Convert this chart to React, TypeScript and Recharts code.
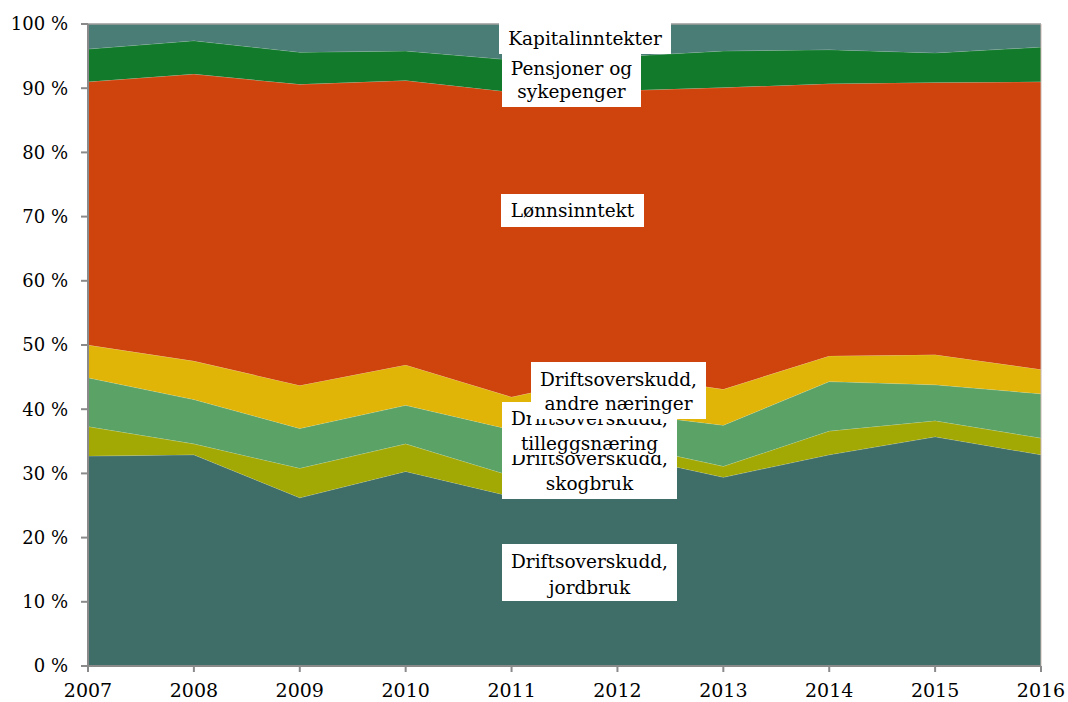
import React from "react";
import { AreaChart, Area, XAxis, YAxis, ReferenceLine } from "recharts";

const years = [2007, 2008, 2009, 2010, 2011, 2012, 2013, 2014, 2015, 2016];
const jordbruk = [32.7, 32.9, 26.2, 30.3, 26.4, 33.0, 29.4, 32.9, 35.7, 32.9];
const skogbruk = [4.6, 1.7, 4.6, 4.3, 3.2, 1.7, 1.7, 3.7, 2.5, 2.6];
const tillegg = [7.6, 6.9, 6.2, 6.0, 7.2, 4.8, 6.4, 7.7, 5.6, 6.9];
const andre = [5.1, 6.0, 6.7, 6.3, 5.1, 6.0, 5.6, 4.0, 4.7, 3.8];
const lonn = [41.0, 44.7, 46.9, 44.3, 47.5, 44.1, 47.0, 42.4, 42.4, 44.8];
const pensjoner = [5.1, 5.2, 5.0, 4.6, 5.0, 5.3, 5.7, 5.3, 4.6, 5.4];
const kapital = [3.9, 2.6, 4.4, 4.2, 5.6, 5.1, 4.2, 4.0, 4.5, 3.6];
const yTicks = [0, 10, 20, 30, 40, 50, 60, 70, 80, 90, 100];

const seriesKeys = ["jordbruk", "skogbruk", "tillegg", "andre", "lonn", "pensjoner", "kapital"];
const seriesColors = ["#3F6E68", "#A3A904", "#5BA266", "#E0B508", "#CF440C", "#117A2B", "#4A7D75"];

const data = years.map((y, i) => ({
  year: y,
  jordbruk: jordbruk[i],
  skogbruk: skogbruk[i],
  tillegg: tillegg[i],
  andre: andre[i],
  lonn: lonn[i],
  pensjoner: pensjoner[i],
  kapital: kapital[i],
}));

const labelLines = {
  kapital: ["Kapitalinntekter"],
  pensjoner: ["Pensjoner og", "sykepenger"],
  lonn: ["Lønnsinntekt"],
  jordbruk: ["Driftsoverskudd,", "jordbruk"],
  skogbruk: ["Driftsoverskudd,", "skogbruk"],
  tillegg: ["Driftsoverskudd,", "tilleggsnæring"],
  andre: ["Driftsoverskudd,", "andre næringer"],
};

const boxes = [
  { key: "kapital", left: 499, top: 23, width: 172, height: 31, lh: 24, pt: 4 },
  { key: "pensjoner", left: 502, top: 54, width: 139, height: 53, lh: 23, pt: 2.5 },
  { key: "lonn", left: 501, top: 194, width: 143, height: 33, lh: 24, pt: 5 },
  { key: "jordbruk", left: 502, top: 544, width: 175, height: 57, lh: 26, pt: 5 },
  { key: "skogbruk", left: 502, top: 440, width: 175, height: 59, lh: 25, pt: 5.5 },
  { key: "tillegg", left: 502, top: 402, width: 175, height: 53, lh: 25, pt: 3.5 },
  { key: "andre", left: 531, top: 362, width: 175, height: 57, lh: 24, pt: 6 },
];

const font = "'DejaVu Serif', serif";

export default function App() {
  return (
    <div style={{ position: "absolute", left: 0, top: 0, width: 1068, height: 702, background: "#fff" }}>
      <AreaChart
        width={1068}
        height={702}
        data={data}
        margin={{ top: 24, right: 27, bottom: 0, left: 0 }}
      >
        <XAxis
          dataKey="year"
          type="number"
          domain={[2007, 2016]}
          ticks={years}
          height={36}
          axisLine={{ stroke: "#8a8a8a", strokeWidth: 2 }}
          tickLine={{ stroke: "#8a8a8a", strokeWidth: 2 }}
          tickSize={6}
          tickMargin={12}
          tick={{ fill: "#000", fontSize: 19, fontFamily: font }}
          interval={0}
        />
        <YAxis
          type="number"
          domain={[0, 100]}
          ticks={yTicks}
          width={88}
          axisLine={{ stroke: "#8a8a8a", strokeWidth: 2 }}
          tickLine={{ stroke: "#8a8a8a", strokeWidth: 2 }}
          tickSize={7}
          tickMargin={13}
          tickFormatter={(v) => `${v} %`}
          tick={{ fill: "#000", fontSize: 18, fontFamily: font }}
          interval={0}
        />
        {seriesKeys.map((k, i) => (
          <Area
            key={k}
            type="linear"
            dataKey={k}
            stackId="1"
            fill={seriesColors[i]}
            fillOpacity={1}
            stroke="#ffffff"
            strokeOpacity={0.35}
            strokeWidth={0.8}
            isAnimationActive={false}
            dot={false}
            activeDot={false}
          />
        ))}
        <ReferenceLine y={100} stroke="#9a9a9a" strokeWidth={1.5} />
        <ReferenceLine x={2016} stroke="#c9b6b0" strokeWidth={1} />
      </AreaChart>
      {boxes.map((b) => (
        <div
          key={b.key}
          style={{
            position: "absolute",
            left: b.left,
            top: b.top,
            width: b.width,
            height: b.height,
            background: "#fff",
            boxSizing: "border-box",
            paddingTop: b.pt,
            fontFamily: font,
            fontSize: 18.5,
            lineHeight: `${b.lh}px`,
            color: "#000",
            textAlign: "center",
            whiteSpace: "nowrap",
            overflow: "hidden",
          }}
        >
          {labelLines[b.key].map((t, j) => (
            <div key={j}>{t}</div>
          ))}
        </div>
      ))}
    </div>
  );
}
